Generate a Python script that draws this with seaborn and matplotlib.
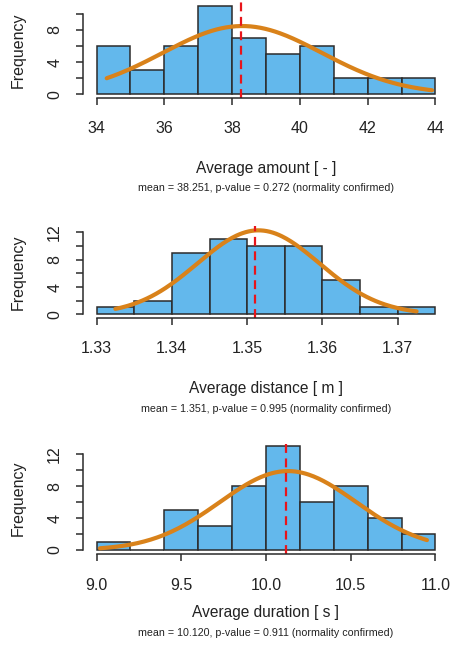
import numpy as np
import pandas as pd
import matplotlib
matplotlib.use("Agg")
import matplotlib.pyplot as plt
import seaborn as sns

# bin edges and counts
amount_edges = [34, 35, 36, 37, 38, 39, 40, 41, 42, 43, 44]
amount_counts = [6, 3, 6, 11, 7, 5, 6, 2, 2, 2]
distance_edges = [1.330, 1.335, 1.340, 1.345, 1.350, 1.355, 1.360, 1.365, 1.370, 1.375]
distance_counts = [1, 2, 9, 11, 10, 10, 5, 1, 1]
duration_edges = [9.0, 9.2, 9.4, 9.6, 9.8, 10.0, 10.2, 10.4, 10.6, 10.8, 11.0]
duration_counts = [1, 0, 5, 3, 8, 13, 6, 8, 4, 2]

# fitted normal: centre, sd, min, max of the data
amount_fit = [38.3, 2.35, 34.3, 43.9]
distance_fit = [1.3515, 0.0081, 1.3325, 1.3725]
duration_fit = [10.13, 0.403, 9.02, 10.95]

means = [38.251, 1.351, 10.120]
pvalues = [0.272, 0.995, 0.911]
xlabels = ["Average amount [ - ]", "Average distance [ m ]", "Average duration [ s ]"]
xticks = [[34, 36, 38, 40, 42, 44],
          [1.33, 1.34, 1.35, 1.36, 1.37],
          [9.0, 9.5, 10.0, 10.5, 11.0]]
xticklabels = [["34", "36", "38", "40", "42", "44"],
               ["1.33", "1.34", "1.35", "1.36", "1.37"],
               ["9.0", "9.5", "10.0", "10.5", "11.0"]]
ymax_tick = [10, 12, 12]

sns.set_style("ticks")
plt.rcParams['font.family'] = ['Liberation Sans', 'DejaVu Sans']

W, H = 451, 654
fig = plt.figure(figsize=(W / 100, H / 100), dpi=100)

# pixel boxes: left, top, bottom of each plot region and its limits
boxes = [
    dict(left=83, right=449, top=2.3, bottom=97.8, xlim=(33.6, 44.4), ylim=(-0.44, 11.44)),
    dict(left=83, right=449, top=226, bottom=317.5, xlim=(1.3282, 1.3768), ylim=(-0.47, 12.95)),
    dict(left=83, right=449, top=442.2, bottom=554.2, xlim=(8.92, 11.08), ylim=(-0.52, 13.52)),
]
label_y = [168, 388, 612]
sub_y = [188, 409, 633]

panels = [(amount_edges, amount_counts, amount_fit),
          (distance_edges, distance_counts, distance_fit),
          (duration_edges, duration_counts, duration_fit)]

for i, (edges, counts, fit) in enumerate(panels):
    b = boxes[i]
    ax = fig.add_axes([b['left'] / W, 1 - b['bottom'] / H,
                       (b['right'] - b['left']) / W, (b['bottom'] - b['top']) / H])
    centers = [(edges[k] + edges[k + 1]) / 2 for k in range(len(counts))]
    df = pd.DataFrame({'x': centers, 'n': counts})
    sns.histplot(data=df, x='x', weights='n', bins=list(edges), ax=ax,
                 color='#63B8EC', alpha=1, edgecolor='#2b2b2b', linewidth=1.1)

    mu, sd, lo, hi = fit
    bw = edges[1] - edges[0]
    n = sum(counts)
    xs = np.linspace(lo, hi, 200)
    ys = n * bw * np.exp(-(xs - mu) ** 2 / (2 * sd ** 2)) / (sd * np.sqrt(2 * np.pi))
    sns.lineplot(x=xs, y=ys, ax=ax, color='#D9821A', linewidth=3.0)

    ax.axvline(means[i], color='#E8151B', linestyle=(0, (4, 2.5)), linewidth=1.6)

    ax.set_xlim(b['xlim'])
    ax.set_ylim(b['ylim'])
    sns.despine(ax=ax)
    ax.spines['left'].set_bounds(0, ymax_tick[i])
    ax.spines['bottom'].set_bounds(xticks[i][0], xticks[i][-1])
    for s in ['left', 'bottom']:
        ax.spines[s].set_color('#2b2b2b')
        ax.spines[s].set_linewidth(1.1)

    yt = list(range(0, ymax_tick[i] + 1, 2))
    ax.set_yticks(yt)
    ax.set_yticklabels([str(v) if v % 4 == 0 else '' for v in yt],
                       rotation=90, va='center', fontsize=11.5)
    ax.set_xticks(xticks[i])
    ax.set_xticklabels(xticklabels[i], fontsize=11.5)
    ax.tick_params(axis='both', length=5, width=1.1, color='#2b2b2b', labelcolor='#222222')
    ax.tick_params(axis='x', pad=12)
    ax.tick_params(axis='y', pad=10)
    ax.set_xlabel('')
    ax.set_ylabel('')

    cx = (b['left'] + b['right']) / 2 / W
    fig.text(cx, 1 - label_y[i] / H, xlabels[i], ha='center', va='center',
             fontsize=11.2, color='#222222')
    fig.text(cx, 1 - sub_y[i] / H,
             "mean = %.3f, p-value = %.3f (normality confirmed)" % (means[i], pvalues[i]),
             ha='center', va='center', fontsize=7.7, color='#222222')
    fig.text(18 / W, 1 - (b['top'] + b['bottom']) / 2 / H, 'Frequency', rotation=90,
             ha='center', va='center', fontsize=11.5, color='#222222')

fig.savefig('out.png', dpi=100)
